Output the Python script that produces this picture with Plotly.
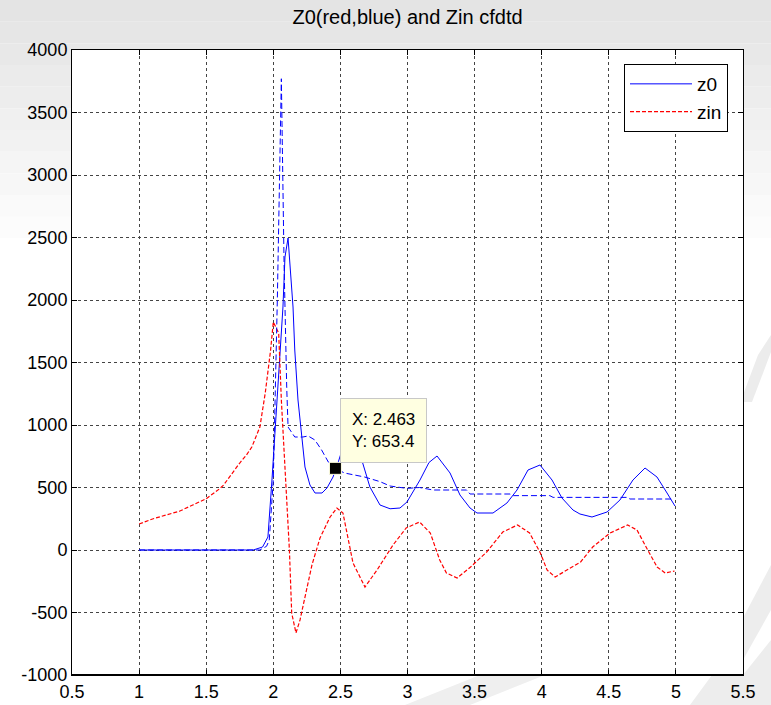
import plotly.graph_objects as go

# ---- data ----
z0_x = [1.0, 1.5, 1.85, 1.92, 1.96, 1.99, 2.03, 2.072, 2.087, 2.11, 2.147, 2.16, 2.184,
        2.214, 2.236, 2.273, 2.311, 2.363, 2.40, 2.445, 2.482, 2.53, 2.57, 2.62, 2.66,
        2.72, 2.795, 2.87, 2.944, 2.996, 3.093, 3.16, 3.22, 3.317, 3.391, 3.466, 3.518,
        3.637, 3.741, 3.816, 3.898, 3.987, 4.077, 4.151, 4.233, 4.285, 4.375, 4.487,
        4.583, 4.680, 4.770, 4.859, 4.934, 4.993]
z0_y = [0, 0, 0, 24, 104, 560, 1250, 1944, 2344, 2496, 1944, 1600, 1200,
        880, 664, 520, 456, 456, 496, 584, 696, 860, 920, 860, 720,
        504, 360, 330, 336, 384, 560, 700, 752, 616, 440, 336, 296,
        296, 376, 480, 640, 680, 560, 416, 320, 288, 264, 304,
        400, 560, 656, 584, 456, 352]

z0b_x = [1.0, 1.5, 1.9, 1.95, 1.97, 2.0, 2.03, 2.06, 2.08, 2.10, 2.11, 2.16, 2.22, 2.26,
         2.31, 2.36, 2.41, 2.463, 2.53, 2.68, 2.76, 2.795, 2.87, 2.994, 3.09, 3.19, 3.44,
         3.466, 3.764, 3.79, 4.06, 4.085, 4.633, 4.658, 4.98]
z0b_y = [0, 0, 0, 30, 80, 560, 2000, 3770, 2300, 1300, 984, 904, 904, 912,
         880, 800, 704, 653.4, 616, 584, 560, 547, 512, 493, 500, 480, 480,
         448, 448, 435, 435, 421, 421, 408, 408]

zin_x = [1.0, 1.1, 1.2, 1.3, 1.4, 1.5, 1.6, 1.63, 1.75, 1.80, 1.84, 1.90, 1.94, 1.98,
         2.0, 2.04, 2.06, 2.09, 2.10, 2.12, 2.137, 2.169, 2.199, 2.288, 2.348, 2.423,
         2.474, 2.519, 2.594, 2.683, 2.773, 2.892, 2.99, 3.09, 3.17, 3.24, 3.29, 3.37,
         3.47, 3.59, 3.71, 3.82, 3.91, 3.99, 4.04, 4.10, 4.19, 4.29, 4.38, 4.51, 4.64,
         4.71, 4.79, 4.86, 4.92, 4.99]
zin_y = [208, 248, 280, 310, 360, 410, 490, 520, 696, 760, 824, 984, 1256, 1600,
         1824, 1736, 1200, 664, 400, 0, -504, -664, -560, -120, 96, 264,
         336, 296, -104, -296, -160, 40, 176, 224, 136, -80, -184, -224,
         -136, -16, 144, 200, 136, -24, -160, -216, -160, -96, 24, 136, 200,
         160, 0, -136, -184, -168]

tip_x = 2.463
tip_y = 653.4

x_ticks = [0.5, 1, 1.5, 2, 2.5, 3, 3.5, 4, 4.5, 5, 5.5]
x_labels = ["0.5", "1", "1.5", "2", "2.5", "3", "3.5", "4", "4.5", "5", "5.5"]
y_ticks = [-1000, -500, 0, 500, 1000, 1500, 2000, 2500, 3000, 3500, 4000]
y_labels = ["-1000", "-500", "0", "500", "1000", "1500", "2000", "2500", "3000", "3500", "4000"]

title_text = "Z0(red,blue) and Zin cfdtd"

FONT = "Liberation Sans, Arial, sans-serif"

# plot-area geometry in pixels (for margin decorations)
L, R, T, B, W, H = 72, 743, 50, 675, 771, 705
PW, PH = R - L, B - T


def px(x):
    return (x - L) / PW


def py(y):
    return (B - y) / PH


fig = go.Figure()
fig.add_trace(go.Scatter(x=z0_x, y=z0_y, mode="lines", name="z0",
                         line=dict(color="rgb(0,0,255)", width=1)))
fig.add_trace(go.Scatter(x=zin_x, y=zin_y, mode="lines", name="zin",
                         line=dict(color="rgb(255,0,0)", width=1.2, dash="4px,2px")))
fig.add_trace(go.Scatter(x=z0b_x, y=z0b_y, mode="lines", showlegend=False,
                         line=dict(color="rgb(0,0,255)", width=1, dash="6px,3px")))
fig.add_trace(go.Scatter(x=[tip_x], y=[tip_y], mode="markers", showlegend=False,
                         marker=dict(symbol="square", size=12, color="black",
                                     line=dict(color="#ffffe1", width=1))))

# background gradient in the margins
shapes = []
n = 12
top_px = 260
for i in range(n):
    y0 = i * top_px / n
    y1 = (i + 1) * top_px / n
    g = int(228 + (255 - 228) * (i / (n - 1)))
    col = f"rgb({g},{g},{g})"
    if y1 <= T:
        shapes.append(dict(type="rect", xref="paper", yref="paper",
                           x0=px(0), x1=px(W), y0=py(y1), y1=py(y0),
                           line=dict(width=0), fillcolor=col, layer="below"))
    else:
        if y0 < T:
            shapes.append(dict(type="rect", xref="paper", yref="paper",
                               x0=px(0), x1=px(W), y0=1, y1=py(y0),
                               line=dict(width=0), fillcolor=col, layer="below"))
        top = min(py(y0), 1)
        shapes.append(dict(type="rect", xref="paper", yref="paper",
                           x0=px(0), x1=0, y0=py(y1), y1=top,
                           line=dict(width=0), fillcolor=col, layer="below"))
        shapes.append(dict(type="rect", xref="paper", yref="paper",
                           x0=1, x1=px(W), y0=py(y1), y1=top,
                           line=dict(width=0), fillcolor=col, layer="below"))


def poly(pts, col):
    d = "M " + " L ".join(f"{px(a):.4f},{py(b):.4f}" for a, b in pts) + " Z"
    return dict(type="path", xref="paper", yref="paper", path=d,
                line=dict(width=0), fillcolor=col, layer="below")


# faint background swooshes in the margins
shapes.append(poly([(771, 335), (771, 352), (752, 402), (743, 402), (743, 395), (758, 355)], "#ececec"))
shapes.append(poly([(771, 565), (771, 610), (743, 660), (743, 618)], "#ededed"))
shapes.append(poly([(690, 705), (771, 705), (771, 640), (743, 675), (712, 675)], "#ededed"))
shapes.append(poly([(405, 705), (470, 705), (545, 675), (480, 675)], "#efefef"))

# thicker bottom axis line
shapes.append(dict(type="line", xref="paper", yref="paper", x0=0, x1=1, y0=0, y1=0,
                   line=dict(color="black", width=2)))

fig.update_layout(
    width=W, height=H, autosize=False,
    margin=dict(l=L, r=W - R, t=T, b=H - B),
    paper_bgcolor="white", plot_bgcolor="white",
    font=dict(family=FONT, color="black", size=18),
    title=dict(text=title_text, x=(L + PW / 2) / W, xanchor="center",
               y=1 - 17 / H, yanchor="middle",
               font=dict(family=FONT, size=20, color="black")),
    showlegend=True,
    legend=dict(x=px(728), y=py(64), xanchor="right", yanchor="top",
                bgcolor="white", bordercolor="black", borderwidth=1,
                font=dict(family=FONT, size=19, color="black"),
                itemwidth=62, tracegroupgap=10),
    shapes=shapes,
    annotations=[dict(x=tip_x, y=tip_y, xref="x", yref="y",
                      text="X: 2.463<br>Y: 653.4", showarrow=False,
                      xanchor="left", yanchor="bottom", xshift=5, yshift=5,
                      align="left", bgcolor="#ffffe1", bordercolor="#c8c8c8",
                      borderwidth=1, borderpad=11,
                      font=dict(family=FONT, size=17, color="black"))],
)
fig.update_xaxes(range=[0.5, 5.5], tickvals=x_ticks, ticktext=x_labels, automargin=False,
                 showgrid=True, gridcolor="#444444", griddash="dot", gridwidth=1,
                 zeroline=False, showline=True, linecolor="black", linewidth=1,
                 mirror="ticks", ticks="inside", ticklen=5, tickcolor="black",
                 tickfont=dict(family=FONT, size=18, color="black"))
fig.update_yaxes(range=[-1000, 4000], tickvals=y_ticks, ticktext=y_labels, automargin=False,
                 showgrid=True, gridcolor="#444444", griddash="dot", gridwidth=1,
                 zeroline=False, showline=True, linecolor="black", linewidth=1,
                 mirror="ticks", ticks="inside", ticklen=5, tickcolor="black",
                 tickfont=dict(family=FONT, size=18, color="black"))

# make sure legend samples keep their trace colours
post = """
document.body.style.margin='0px';
var gd = document.querySelector('.plotly-graph-div');
function fixLegend(){
  var cols = ['rgb(0, 0, 255)', 'rgb(255, 0, 0)'];
  var items = gd.querySelectorAll('.legend .traces');
  items.forEach(function(it, i){
    it.querySelectorAll('path.js-line').forEach(function(p){
      if (i < cols.length) { p.style.stroke = cols[i]; }
    });
  });
}
fixLegend();
"""
fig.write_html("out.html", config={"displayModeBar": False}, post_script=post)
